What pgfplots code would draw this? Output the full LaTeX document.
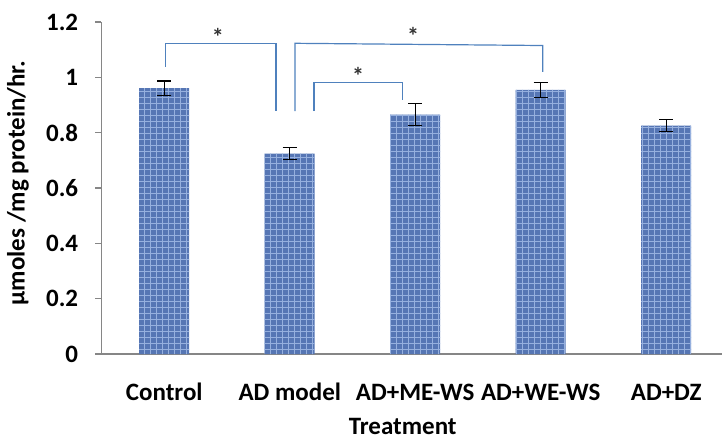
\documentclass[border=0pt]{standalone}
\usepackage{pgfplots}
\pgfplotsset{compat=1.18}
\usepackage{pgfplotstable}
\usepackage{fontspec}
\setmainfont{Carlito}
\usetikzlibrary{patterns}
\definecolor{barblue}{RGB}{86,118,180}
\definecolor{barlight}{RGB}{150,176,222}
\definecolor{brk}{RGB}{79,129,189}
\definecolor{axgray}{RGB}{134,134,134}
\pgfplotstableread{
x y err
0 0.961 0.026
1 0.724 0.021
2 0.865 0.040
3 0.955 0.027
4 0.825 0.022
}\bars
\begin{document}
\begin{tikzpicture}
\begin{axis}[
  scale only axis,
  width=313.75pt, height=166pt,
  xmin=-0.5, xmax=4.5,
  ymin=0, ymax=1.2,
  ytick={0,0.2,...,1.2},
  yticklabels={0,0.2,0.4,0.6,0.8,1,1.2},
  xtick={0,1,2,3,4},
  xticklabels={Control,AD model,AD+ME-WS,AD+WE-WS,AD+DZ},
  minor xtick={-0.5,0.5,1.5,2.5,3.5,4.5},
  xtick style={draw=none},
  minor tick length=4.5pt,
  major tick length=3pt,
  tick align=outside,
  axis lines*=left,
  axis line style={axgray, line width=0.75pt},
  every tick/.style={axgray, line width=0.75pt},
  minor x tick style={axgray, line width=0.75pt},
  /pgf/number format/assume math mode=true,
  tick label style={font=\fontsize{12.5}{14}\selectfont\bfseries, black},
  yticklabel style={anchor=east, inner sep=0pt, xshift=-8.5pt},
  xticklabel style={anchor=base, inner sep=0pt, yshift=-20pt},
  xlabel={Treatment},
  ylabel={µmoles /mg protein/hr.},
  label style={font=\fontsize{12.5}{14}\selectfont\bfseries},
  xlabel style={at={(axis description cs:0.48,0)}, anchor=base, inner sep=0pt, yshift=-40pt},
  ylabel style={at={(axis description cs:-0.133,0.515)}, anchor=center, inner sep=0pt},
  clip=false,
]
\addplot[ybar, bar width=25pt, bar shift=0pt, draw=none, fill=barblue,
  postaction={pattern=grid, pattern color=barlight},
  error bars/.cd, y dir=both, y explicit,
  error bar style={black, line width=0.6pt},
  error mark options={black, rotate=90, mark size=3.5pt, line width=0.6pt}]
  table[x=x, y=y, y error=err] {\bars};
% significance brackets
\addplot[brk, line width=0.6pt, sharp plot, mark=none] coordinates {(0.012,1.038) (0.012,1.123) (0.890,1.123) (0.890,0.878)};
\addplot[brk, line width=0.6pt, sharp plot, mark=none] coordinates {(1.042,0.878) (1.042,1.123) (3.016,1.115) (3.016,1.020)};
\addplot[brk, line width=0.6pt, sharp plot, mark=none] coordinates {(1.193,0.878) (1.193,0.981) (1.900,0.981) (1.900,0.918)};
\node[anchor=north, inner sep=0pt, font=\fontsize{12}{14}\selectfont\bfseries, text=black!80] at (axis cs:0.428,1.178) {*};
\node[anchor=north, inner sep=0pt, font=\fontsize{12}{14}\selectfont\bfseries, text=black!80] at (axis cs:1.982,1.181) {*};
\node[anchor=north, inner sep=0pt, font=\fontsize{12}{14}\selectfont\bfseries, text=black!80] at (axis cs:1.544,1.036) {*};
\end{axis}
\pgfresetboundingbox
\path[use as bounding box] ([xshift=-50.75pt, yshift=-42.5pt]current axis.south west) rectangle ([xshift=310.25pt, yshift=177pt]current axis.south west);
\end{tikzpicture}
\end{document}
